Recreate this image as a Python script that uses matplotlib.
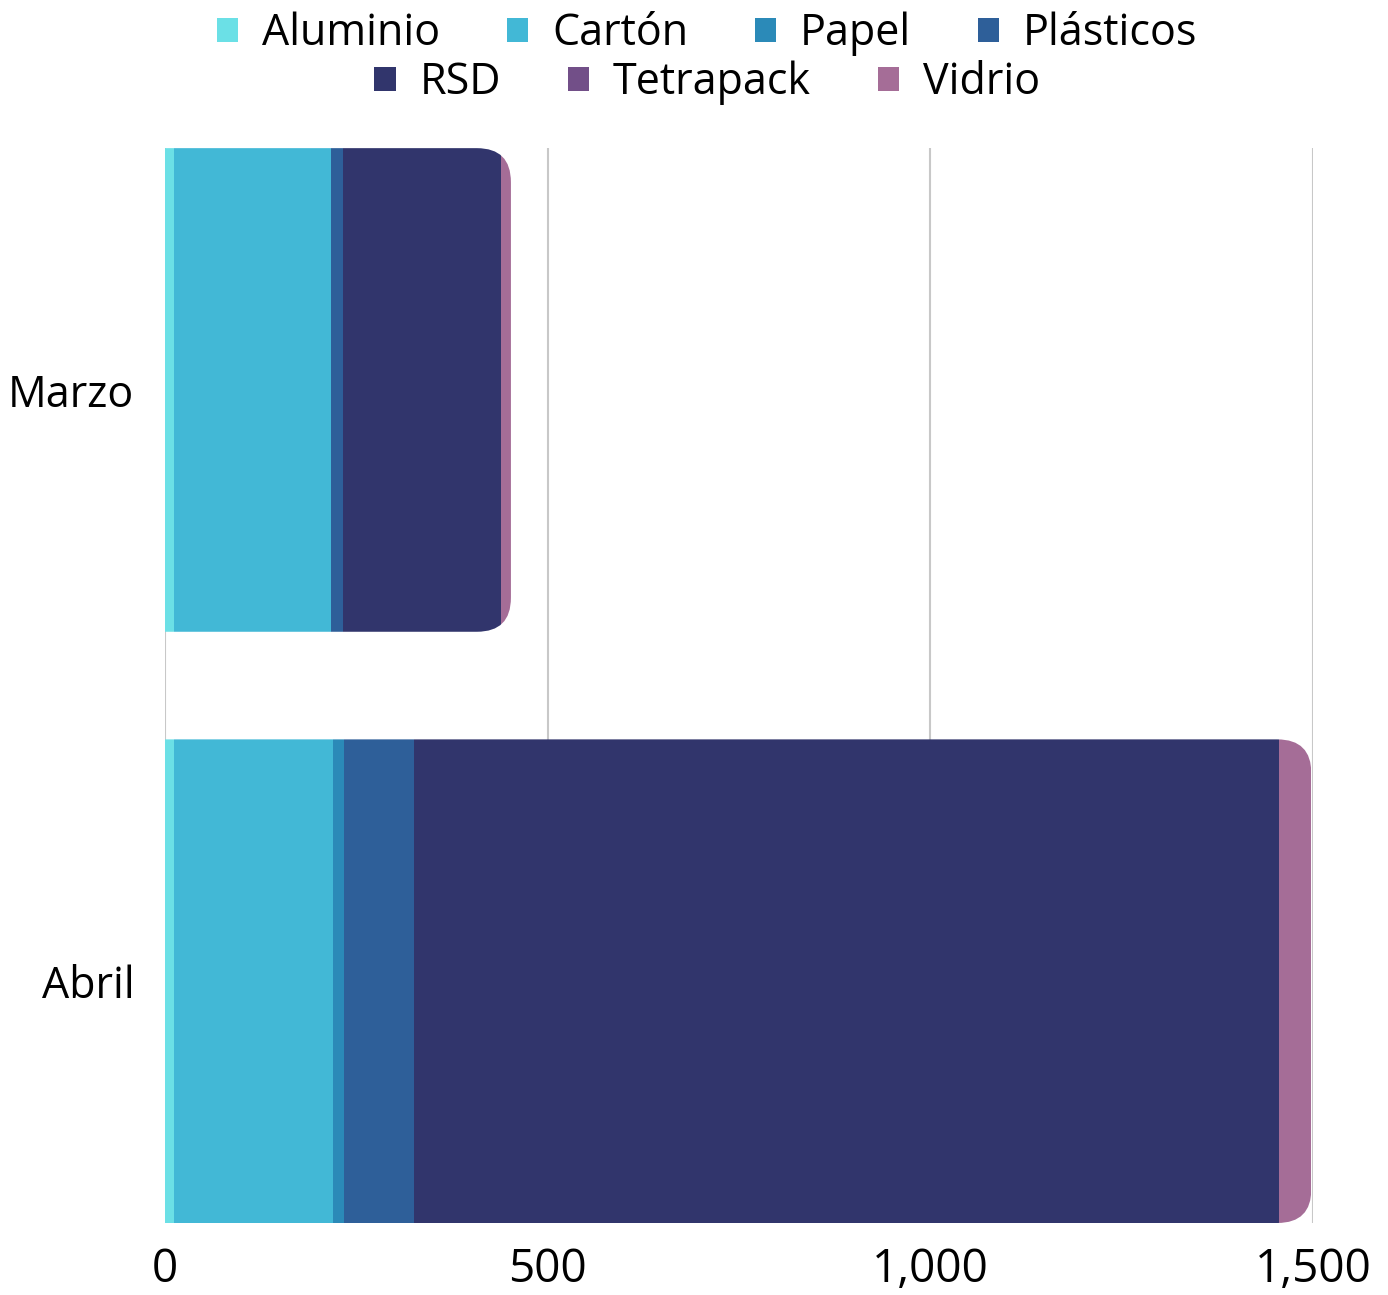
import matplotlib.pyplot as plt
from matplotlib.patches import Patch, FancyBboxPatch
from matplotlib.ticker import FuncFormatter

plt.rcParams['font.family'] = ['Open Sans', 'DejaVu Sans']

# datos (kg)
meses = ["Abril", "Marzo"]
materiales = ["Aluminio", "Cartón", "Papel", "Plásticos", "RSD", "Tetrapack", "Vidrio"]
aluminio = [12, 12]
carton = [208, 205]
papel = [14, 0]
plasticos = [91, 16]
rsd = [1131, 206]
tetrapack = [0, 0]
vidrio = [42, 13]
colores = ["#6BE0E6", "#42B8D6", "#2B8AB8", "#2E5F99", "#31356C", "#724F88", "#A56D97"]

series = [aluminio, carton, papel, plasticos, rsd, tetrapack, vidrio]

fig = plt.figure(figsize=(13.88, 12.95), dpi=100)
ax = fig.add_axes([0.1189, 0.0556, 0.827, 0.830])

alto = 0.818
ypos = list(range(len(meses)))
ax.set_xlim(0, 1500)
ax.set_ylim(-0.409, 1.409)

# radio del redondeo en pixeles -> unidades de datos
radio_px = 34
x_por_px = 1500 / (ax.transData.transform((1500, 0))[0] - ax.transData.transform((0, 0))[0])
y_por_px = 1.818 / (ax.transData.transform((0, 1.409))[1] - ax.transData.transform((0, -0.409))[1])
aspecto = y_por_px / x_por_px

totales = [sum(s[i] for s in series) for i in range(len(meses))]
recortes = []
for i, y in enumerate(ypos):
    caja = FancyBboxPatch((-300, y - alto / 2), totales[i] + 300, alto,
                          boxstyle="round,pad=0,rounding_size=%f" % (radio_px * x_por_px),
                          mutation_aspect=aspecto, transform=ax.transData,
                          facecolor="none", edgecolor="none")
    recortes.append(caja)

izq = [0] * len(meses)
for nombre, valores, color in zip(materiales, series, colores):
    barras = ax.barh(ypos, valores, left=izq, height=alto, color=color, label=nombre, zorder=3)
    for i, b in enumerate(barras):
        b.set_clip_path(recortes[i])
    izq = [a + b for a, b in zip(izq, valores)]

ax.set_xticks([0, 500, 1000, 1500])
ax.xaxis.set_major_formatter(FuncFormatter(lambda v, p: "{:,.0f}".format(v)))
ax.set_yticks(ypos)
ax.set_yticklabels(meses)
ax.grid(axis="x", color="#C8C8C8", linewidth=1.5, zorder=0)
ax.set_axisbelow(True)
for s in ax.spines.values():
    s.set_visible(False)
ax.tick_params(axis="both", length=0)
ax.tick_params(axis="x", pad=17, labelsize=33)
ax.tick_params(axis="y", pad=22, labelsize=31)

# leyenda en dos filas centradas
manijas = [Patch(facecolor=c, edgecolor="none") for c in colores]
opts = dict(frameon=False, fontsize=31, handlelength=0.5, handleheight=0.5,
            handletextpad=0.55, columnspacing=1.55, borderaxespad=0, borderpad=0)
xc = 0.5 + 13 / 1388
fig.legend(manijas[:4], materiales[:4], ncol=4, loc="center",
           bbox_to_anchor=(xc, 1 - 34 / 1295), **opts)
fig.legend(manijas[4:], materiales[4:], ncol=3, loc="center",
           bbox_to_anchor=(xc, 1 - 83 / 1295), **opts)

fig.savefig("out.png", dpi=100)
